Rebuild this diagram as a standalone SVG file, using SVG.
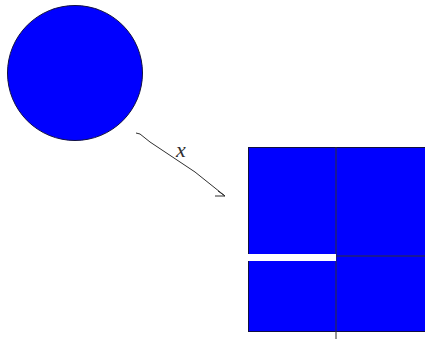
<svg xmlns="http://www.w3.org/2000/svg" width="425" height="339" viewBox="0 0 425 339">
<style>
.shape{fill:#0000ff;stroke:#101040;stroke-width:1}
.line{fill:none;stroke:#303030;stroke-width:1}
.lbl{font-family:"Liberation Serif",serif;font-style:italic;font-size:22px;fill:#303030}
</style>
<rect width="425" height="339" fill="#ffffff"/>
<g id="circle">
<circle class="shape" cx="75" cy="73" r="67.5"/>
</g>
<g id="square">
<rect class="shape" x="248.5" y="147.5" width="177" height="184"/>
<line class="line" x1="336" y1="147" x2="336" y2="339" stroke="#101040"/>
<line class="line" x1="336" y1="256" x2="425" y2="256" stroke="#101040"/>
<rect x="248" y="254" width="88" height="7" fill="#ffffff"/>
</g>
<g id="connectors">
<path class="line" d="M136,133 L140,134 L150,142 L165,152 L180,162 L195,172 L210,184 L225,196"/>
<path class="line" d="M215,196 L225,196 L218,191"/>
</g>
<g id="label">
<text class="lbl" x="176" y="157">x</text>
</g>
</svg>
